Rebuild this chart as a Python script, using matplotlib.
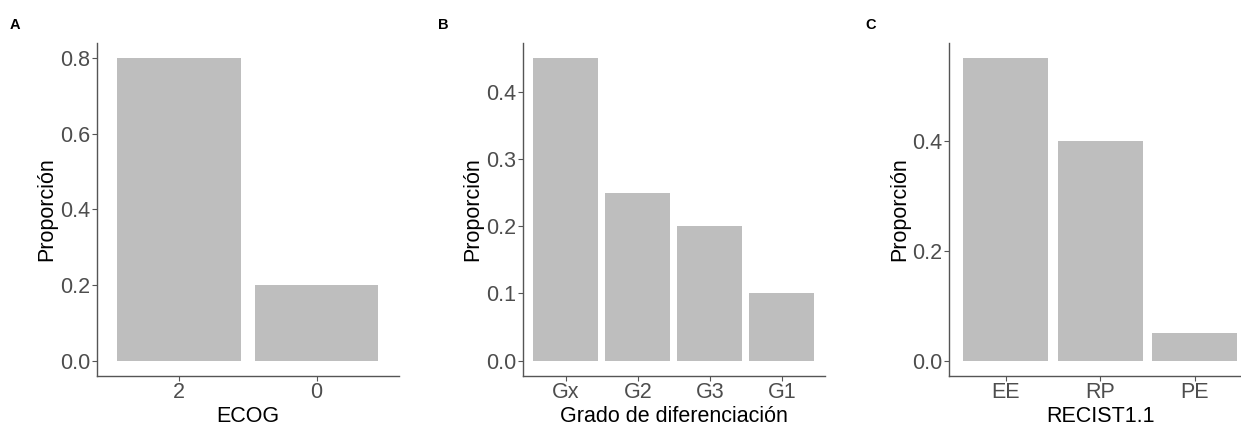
import matplotlib
matplotlib.use("Agg")
import matplotlib.pyplot as plt

plt.rcParams['font.family'] = ['Liberation Sans', 'DejaVu Sans']

# proportions per variable
ecog_cats = ["2", "0"]
ecog_vals = [0.8, 0.2]

grado_cats = ["Gx", "G2", "G3", "G1"]
grado_vals = [0.45, 0.25, 0.20, 0.10]

recist_cats = ["EE", "RP", "PE"]
recist_vals = [0.55, 0.40, 0.05]

panels = [
    ("A", ecog_cats, ecog_vals, "ECOG", [0.0, 0.2, 0.4, 0.6, 0.8], 96.7),
    ("B", grado_cats, grado_vals, "Grado de diferenciación", [0.0, 0.1, 0.2, 0.3, 0.4], 522.7),
    ("C", recist_cats, recist_vals, "RECIST1.1", [0.0, 0.2, 0.4], 949.3),
]
tags_x = [10, 438, 865]

W, H = 1241, 425
fig = plt.figure(figsize=(W / 100, H / 100), dpi=100)

top_px, bot_px, width_px = 43.0, 375.7, 302.3
for (tag, cats, vals, xlab, yt, left_px), tx in zip(panels, tags_x):
    ax = fig.add_axes([left_px / W, (H - bot_px) / H, width_px / W, (bot_px - top_px) / H])
    x = list(range(1, len(cats) + 1))
    ax.bar(x, vals, width=0.9, color="#BEBEBE", edgecolor="none")
    ax.set_xlim(0.4, len(cats) + 0.6)
    vmax = max(vals)
    ax.set_ylim(-0.05 * vmax, 1.05 * vmax)
    ax.set_xticks(x)
    ax.set_xticklabels(cats)
    ax.set_yticks(yt)
    ax.set_yticklabels([f"{v:.1f}" for v in yt])
    for s in ["top", "right"]:
        ax.spines[s].set_visible(False)
    for s in ["left", "bottom"]:
        ax.spines[s].set_color("#555555")
        ax.spines[s].set_linewidth(1.0)
    ax.tick_params(axis="both", colors="#555555", labelcolor="#4D4D4D",
                   labelsize=15.5, length=3.3, width=0.8, pad=1.5)
    ax.set_xlabel(xlab, fontsize=15.5, color="black", labelpad=2)
    ax.set_ylabel("Proporción", fontsize=15.5, color="black", labelpad=1.5)
    fig.text(tx / W, 1 - 25 / H, tag, fontsize=10.5, fontweight="bold",
             va="center", ha="left")

fig.savefig("out.png", dpi=100)
